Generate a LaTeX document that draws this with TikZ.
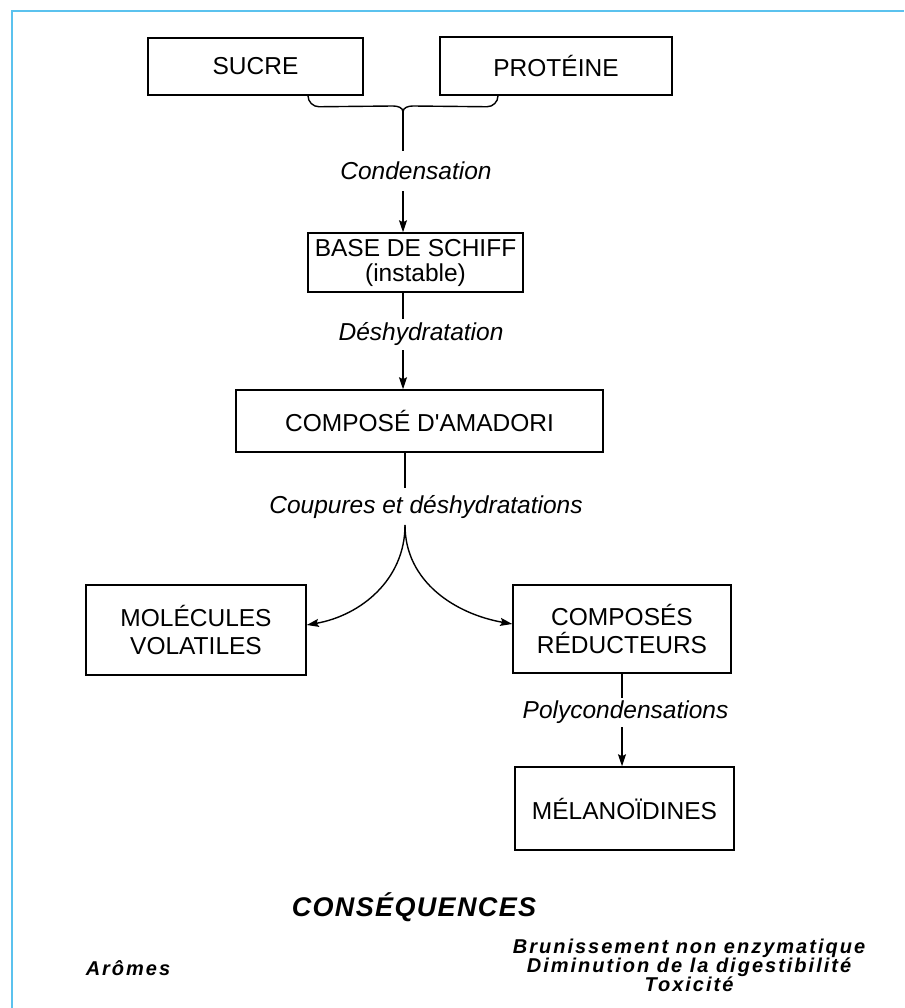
\documentclass[tikz,border=0pt]{standalone}
\usepackage{fontspec}
\setmainfont{Liberation Sans}
\usepackage{xcolor}
\usepackage{tikz}
\usetikzlibrary{arrows.meta,calc}
\definecolor{frameblue}{HTML}{5BC2EE}
\tikzset{
  box/.style={
    draw=black, line width=1.5pt, fill=white, inner sep=0pt,
    align=center, font=\fontsize{24.5}{28}\selectfont
  },
  link/.style={draw=black, line width=1.4pt},
  flow/.style={link, -{Stealth[length=12pt,width=8pt,inset=2pt]}},
  arrowlabel/.style={font=\fontsize{24.5}{28}\selectfont\itshape, fill=white, inner xsep=2pt},
  heading/.style={font=\fontsize{27}{30}\selectfont\bfseries\itshape\addfontfeatures{LetterSpace=5}},
  note/.style={font=\fontsize{20}{19}\selectfont\bfseries\itshape\addfontfeatures{LetterSpace=10}, align=center},
  frameline/.style={draw=frameblue, line width=2pt}
}

\begin{document}
\begin{tikzpicture}[x=1pt, y=1pt]
  \useasboundingbox (0,0) rectangle (904,-1008);
  \draw[frameline] (12,-1008) |- (904,-11);

  \node[box, minimum width=215pt, minimum height=57pt] (sucre) at (255.5,-66.5) {SUCRE};
  \node[box, minimum width=232pt, minimum height=58pt] (proteine) at (556,-66) {PROTÉINE};
  \node[box, minimum width=215pt, minimum height=59pt] (schiff) at (415.5,-262.5) {BASE DE SCHIFF\\[-3pt](instable)};
  \node[box, minimum width=367pt, minimum height=62pt] (amadori) at (419.5,-421) {COMPOSÉ D\textquotesingle AMADORI};
  \node[box, minimum width=220pt, minimum height=90pt] (volatiles) at (196,-630) {MOLÉCULES\\VOLATILES};
  \node[box, minimum width=218pt, minimum height=88pt] (reducteurs) at (622,-629) {COMPOSÉS\\RÉDUCTEURS};
  \node[box, minimum width=219pt, minimum height=83pt] (melanoidines) at (624.5,-808.5) {MÉLANOÏDINES};

  \coordinate (join) at (403,-112);
  \coordinate (fork) at (405,-525);

  \draw[link] ([xshift=52.5pt]sucre.south) to[out=-90,in=180] ++(11,-11) -- ($(join)+(-10,6)$) to[out=0,in=90] (join);
  \draw[link] ([xshift=-58pt]proteine.south) to[out=-90,in=0] ++(-11,-11) -- ($(join)+(10,6)$) to[out=180,in=90] (join);

  \draw[flow] (join) -- node[arrowlabel, pos=0.49, xshift=13pt, inner ysep=11pt] {Condensation} (join |- schiff.north);
  \draw[flow] (schiff.south -| join) -- node[arrowlabel, pos=0.43, xshift=18pt, inner ysep=4pt] {Déshydratation} (amadori.north -| join);
  \draw[link] (amadori.south -| fork) -- node[arrowlabel, pos=0.75, xshift=21pt, inner ysep=7pt] {Coupures et déshydratations} (fork);
  \draw[flow] (fork) to[out=-90,in=10] ([yshift=5pt]volatiles.east);
  \draw[flow] (fork) to[out=-90,in=170] ([yshift=5pt]reducteurs.west);
  \draw[flow] (reducteurs.south) -- node[arrowlabel, pos=0.42, xshift=3.5pt, inner ysep=3pt] {Polycondensations} (reducteurs.south |- melanoidines.north);

  \node[heading] (consequences) at (414,-907) {CONSÉQUENCES};
  \node[note] (aromes) at (128,-968) {Arômes};
  \node[note] (effets) at (689,-965) {Brunissement non enzymatique\\Diminution de la digestibilité\\Toxicité};
\end{tikzpicture}
\end{document}
